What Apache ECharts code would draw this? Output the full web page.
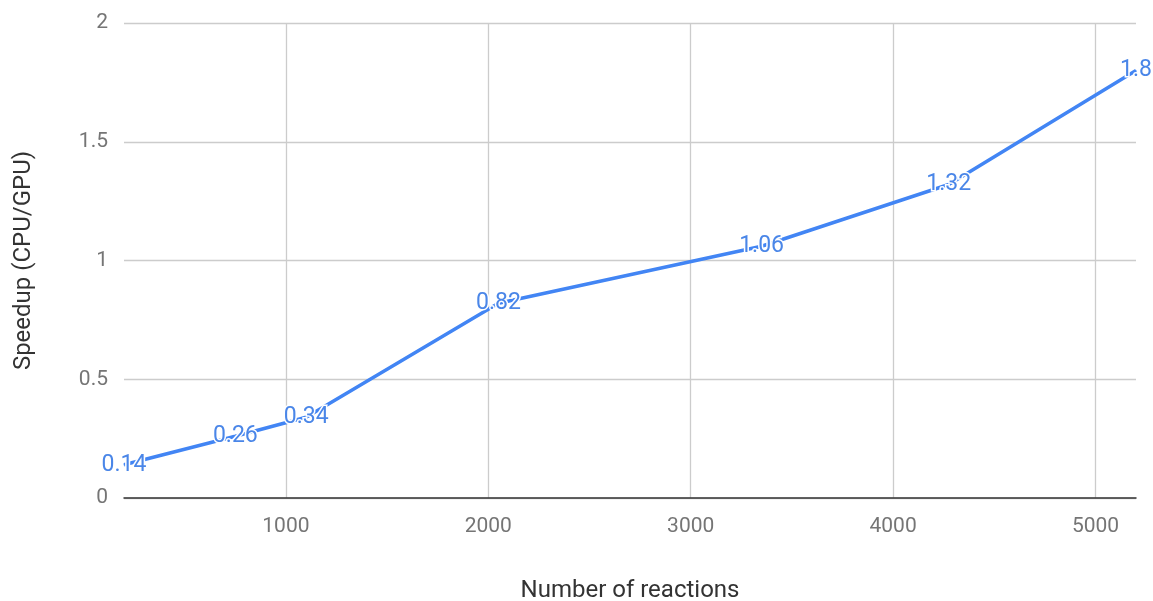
<!DOCTYPE html>
<html><head><meta charset="utf-8">
<script src="https://cdn.jsdelivr.net/npm/echarts@6/dist/echarts.min.js"></script>
<style>html,body{margin:0;padding:0;background:#fff}#c{width:1153px;height:601px}</style>
</head><body><div id="c"></div>
<script>
const reactions = [200, 750, 1100, 2050, 3350, 4275, 5200];
const speedup = [0.14, 0.26, 0.34, 0.82, 1.06, 1.32, 1.8];
const xTicks = [1000, 2000, 3000, 4000, 5000];
const yTicks = [0, 0.5, 1, 1.5, 2];
const xTitle = 'Number of reactions';
const yTitle = 'Speedup (CPU/GPU)';

const chart = echarts.init(document.getElementById('c'));
const font = 'Roboto, "Noto Sans", sans-serif';
chart.setOption({
  animation: false,
  grid: {left: 124, right: 17, top: 23, bottom: 103, containLabel: false, outerBoundsMode: 'none'},
  xAxis: {
    type: 'value', min: reactions[0], max: reactions[reactions.length - 1],
    name: xTitle, nameLocation: 'middle', nameGap: 81,
    nameTextStyle: {color: '#333', fontSize: 24, fontFamily: font},
    axisLine: {show: true, lineStyle: {color: '#333', width: 1.5}},
    axisTick: {show: false, customValues: xTicks},
    axisLabel: {customValues: xTicks, color: '#757575', fontSize: 21, fontFamily: font, margin: 18,
      formatter: v => String(v)},
    splitLine: {show: true, lineStyle: {color: '#cccccc', width: 1.3}}
  },
  yAxis: {
    type: 'value', min: 0, max: 2, interval: 0.5,
    name: yTitle, nameLocation: 'middle', nameGap: 88, nameRotate: 90,
    nameTextStyle: {color: '#333', fontSize: 24, fontFamily: font},
    axisLine: {show: false}, axisTick: {show: false},
    axisLabel: {color: '#757575', fontSize: 21, fontFamily: font, margin: 16,
      formatter: v => yTicks.includes(v) ? String(v) : ''},
    splitLine: {show: true, lineStyle: {color: '#cccccc', width: 1.3}}
  },
  series: [{
    type: 'line',
    data: reactions.map((x, i) => [x, speedup[i]]),
    showSymbol: true, symbol: 'circle', symbolSize: 1,
    itemStyle: {color: '#4285f4'},
    lineStyle: {color: '#4285f4', width: 3.5},
    label: {show: true, position: 'inside', color: '#4a86e8', fontSize: 23, fontFamily: font,
      textBorderColor: '#fff', textBorderWidth: 3,
      formatter: p => String(p.value[1])},
    z: 5
  }]
});
</script></body></html>
